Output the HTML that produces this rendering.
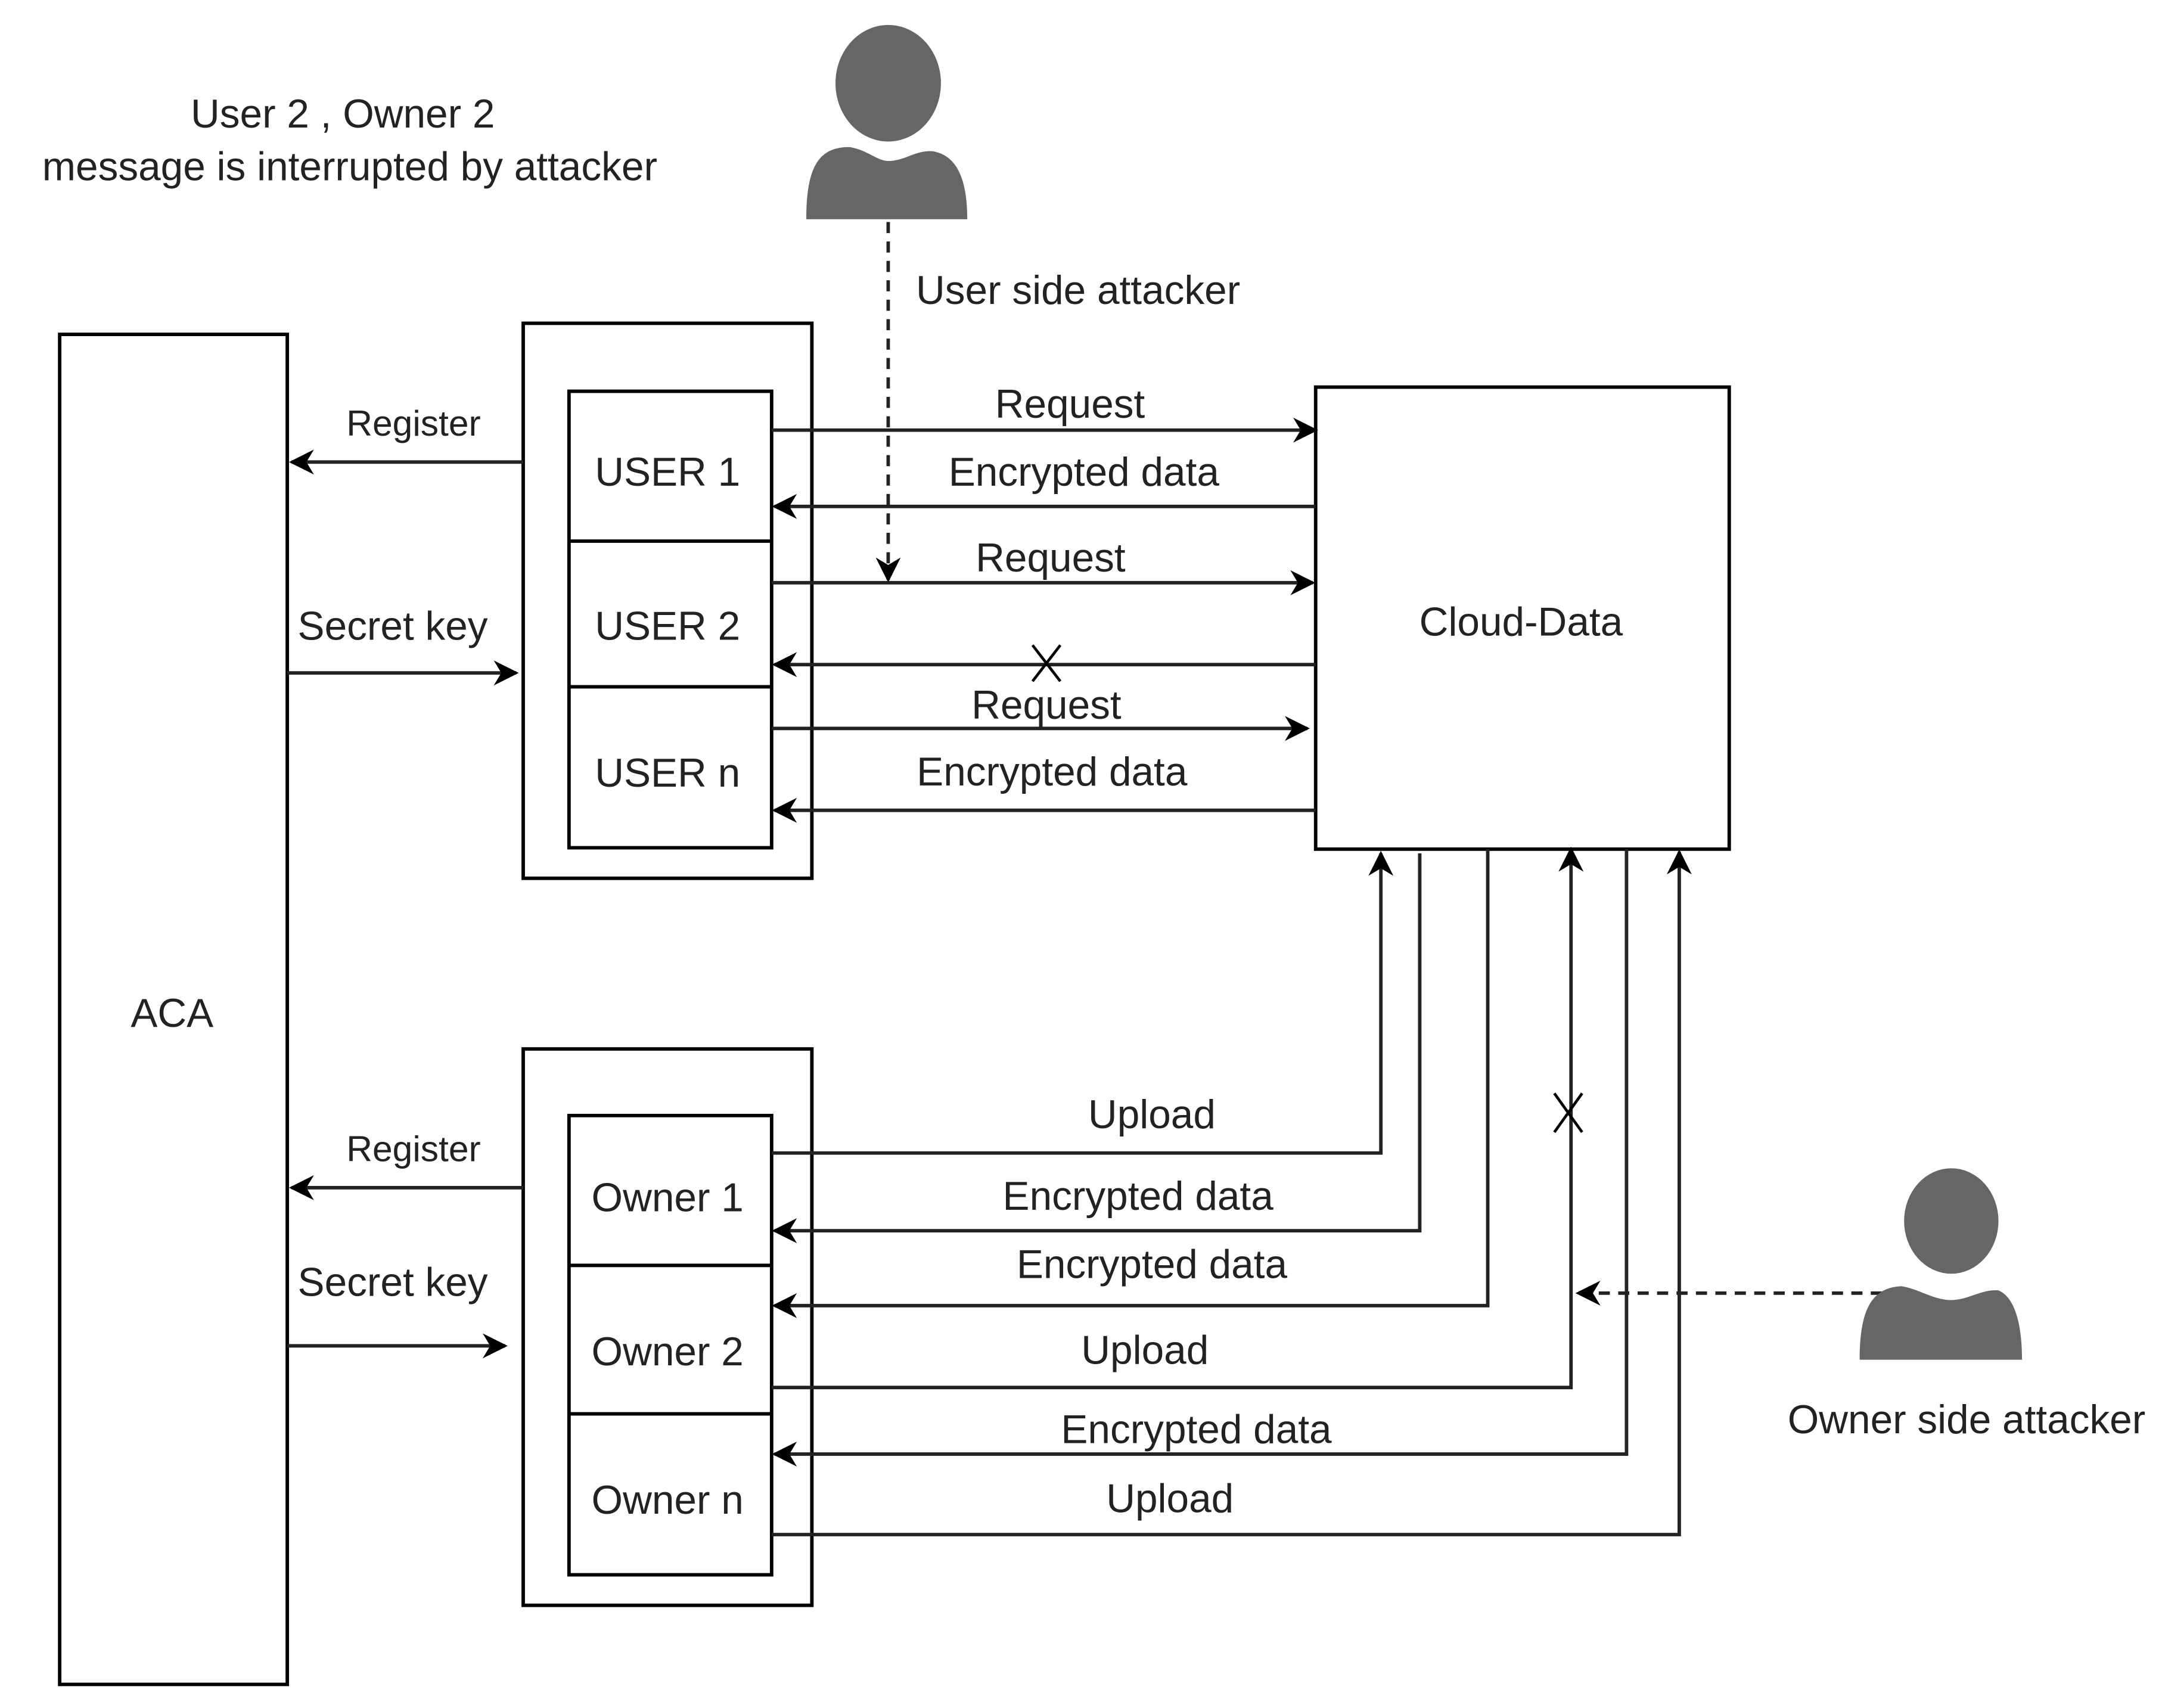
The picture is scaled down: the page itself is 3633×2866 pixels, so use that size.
<!DOCTYPE html>
<html><head><meta charset="utf-8"><style>
html,body{margin:0;padding:0;background:#fff;}
svg{display:block;}
text{font-family:"Liberation Sans Narrow","Liberation Sans",sans-serif;fill:#222;}
</style></head><body>
<svg width="3633" height="2866" viewBox="0 0 1560 1231" preserveAspectRatio="none" xmlns="http://www.w3.org/2000/svg">
<defs>
<marker id="a" viewBox="0 0 10 10" refX="9" refY="5" markerWidth="7" markerHeight="7" orient="auto" markerUnits="userSpaceOnUse">
<path d="M0,0 L10,5 L0,10 L3,5 z" fill="#000"/></marker>
<marker id="b" viewBox="0 0 10 10" refX="9" refY="5" markerWidth="18" markerHeight="18" orient="auto" markerUnits="userSpaceOnUse">
<path d="M0,0 L10,5 L0,10 L3,5 z" fill="#000"/></marker>
</defs>
<rect width="1560" height="1231" fill="#fff"/>
<g fill="none" stroke="#000" stroke-width="2.5">
<rect x="43" y="241" width="164" height="973"/>
<rect x="377" y="233" width="208" height="400"/>
<rect x="410" y="282" width="146" height="329"/>
<line x1="410" y1="390" x2="556" y2="390"/>
<line x1="410" y1="495" x2="556" y2="495"/>
<rect x="948" y="279" width="298" height="333"/>
<rect x="377" y="756" width="208" height="401"/>
<rect x="410" y="804" width="146" height="331"/>
<line x1="410" y1="912" x2="556" y2="912"/>
<line x1="410" y1="1019" x2="556" y2="1019"/>
</g>
<g fill="none" stroke="#222" stroke-width="2.5" marker-end="url(#b)">
<line x1="377" y1="333" x2="210" y2="333"/>
<line x1="207" y1="485" x2="372" y2="485"/>
<line x1="377" y1="856" x2="210" y2="856"/>
<line x1="207" y1="970" x2="364" y2="970"/>
<line x1="556" y1="310" x2="948" y2="310"/>
<line x1="948" y1="365" x2="558" y2="365"/>
<line x1="556" y1="420" x2="946" y2="420"/>
<line x1="948" y1="479" x2="558" y2="479"/>
<line x1="556" y1="525" x2="942" y2="525"/>
<line x1="948" y1="584" x2="558" y2="584"/>
<polyline points="556,831 995,831 995,615"/>
<polyline points="1023,615 1023,887 558,887"/>
<polyline points="1072,612 1072,941 558,941"/>
<polyline points="556,1000 1132,1000 1132,612"/>
<polyline points="1172,612 1172,1048 558,1048"/>
<polyline points="556,1106 1210,1106 1210,614"/>
<line x1="640" y1="160" x2="640" y2="418" stroke-dasharray="8,6"/>
<line x1="1356" y1="932" x2="1137" y2="932" stroke-dasharray="8,6"/>
</g>
<g stroke="#000" stroke-width="2">
<line x1="744" y1="465" x2="764" y2="491"/><line x1="764" y1="465" x2="744" y2="491"/>
<line x1="1120" y1="788" x2="1140" y2="816"/><line x1="1140" y1="788" x2="1120" y2="816"/>
</g>
<g fill="#666">
<ellipse cx="640" cy="60" rx="38" ry="42"/>
<path d="M581,158 C581,120 590,106 612,106 C625,108 632,116 640,116 C652,116 660,108 672,109 C690,112 697,130 697,158 Z"/>
<ellipse cx="1406" cy="880" rx="34" ry="38"/>
<path d="M1340,980 C1340,945 1348,928 1370,927 C1383,929 1393,937 1406,937 C1418,937 1428,929 1440,930 C1452,935 1457,955 1457,980 Z"/>
</g>
<g font-size="29">
<text x="124" y="740" text-anchor="middle">ACA</text>
<text x="481" y="350" text-anchor="middle">USER 1</text>
<text x="481" y="461" text-anchor="middle">USER 2</text>
<text x="481" y="567" text-anchor="middle">USER n</text>
<text x="481" y="873" text-anchor="middle">Owner 1</text>
<text x="481" y="984" text-anchor="middle">Owner 2</text>
<text x="481" y="1091" text-anchor="middle">Owner n</text>
<text x="1096" y="458" text-anchor="middle">Cloud-Data</text>
<text x="771" y="301" text-anchor="middle">Request</text>
<text x="781" y="350" text-anchor="middle">Encrypted data</text>
<text x="757" y="412" text-anchor="middle">Request</text>
<text x="754" y="518" text-anchor="middle">Request</text>
<text x="758" y="566" text-anchor="middle">Encrypted data</text>
<text x="830" y="813" text-anchor="middle">Upload</text>
<text x="820" y="872" text-anchor="middle">Encrypted data</text>
<text x="830" y="921" text-anchor="middle">Encrypted data</text>
<text x="825" y="983" text-anchor="middle">Upload</text>
<text x="862" y="1040" text-anchor="middle">Encrypted data</text>
<text x="843" y="1090" text-anchor="middle">Upload</text>
<text x="283" y="461" text-anchor="middle">Secret key</text>
<text x="283" y="934" text-anchor="middle">Secret key</text>
<text x="660" y="219">User side attacker</text>
<text x="1417" y="1033" text-anchor="middle">Owner side attacker</text>
<text x="247" y="92" text-anchor="middle">User 2 , Owner 2</text>
<text x="252" y="130" text-anchor="middle">message is interrupted by  attacker</text>
</g>
<g font-size="26">
<text x="298" y="314" text-anchor="middle">Register</text>
<text x="298" y="837" text-anchor="middle">Register</text>
</g>
</svg>
</body></html>
